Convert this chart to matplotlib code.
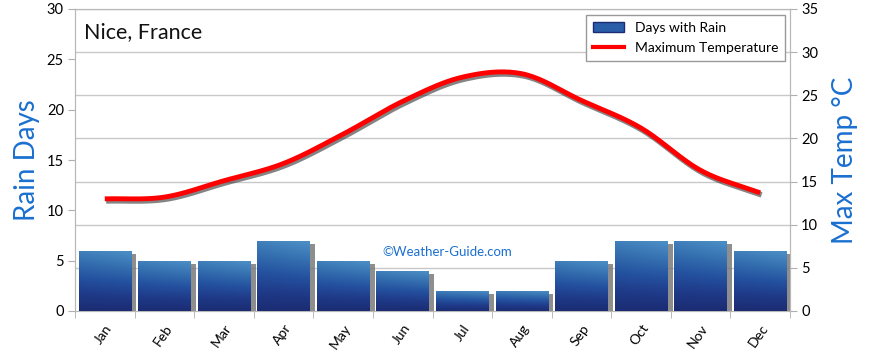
import matplotlib
matplotlib.use('Agg')
import matplotlib.pyplot as plt
import matplotlib.patheffects as pe
from matplotlib.patches import Rectangle, Patch
from matplotlib.lines import Line2D
import numpy as np

plt.rcParams['font.family'] = ['Lato', 'DejaVu Sans']

# Chart data
months = ['Jan', 'Feb', 'Mar', 'Apr', 'May', 'Jun',
          'Jul', 'Aug', 'Sep', 'Oct', 'Nov', 'Dec']
rain_days = [6, 5, 5, 7, 5, 4, 2, 2, 5, 7, 7, 6]
max_temp = [13, 13.2, 15.1, 17.1, 20.5, 24.3, 27.1, 27.5, 24.4, 21.2, 16.3, 13.7]

blue_label = '#1a6fd0'
grid_col = '#c8c8c8'


def smooth(xv, yv, n=20):
    # catmull-rom curve through the data points, only for drawing
    xv = np.asarray(xv, float)
    yv = np.asarray(yv, float)
    px = np.concatenate([[2 * xv[0] - xv[1]], xv, [2 * xv[-1] - xv[-2]]])
    py = np.concatenate([[2 * yv[0] - yv[1]], yv, [2 * yv[-1] - yv[-2]]])
    outx, outy = [], []
    t = np.linspace(0, 1, n, endpoint=False)
    for i in range(1, len(px) - 2):
        for p, out in ((px, outx), (py, outy)):
            p0, p1, p2, p3 = p[i - 1], p[i], p[i + 1], p[i + 2]
            out.extend(0.5 * (2 * p1 + (-p0 + p2) * t +
                              (2 * p0 - 5 * p1 + 4 * p2 - p3) * t ** 2 +
                              (-p0 + 3 * p1 - 3 * p2 + p3) * t ** 3))
    outx.append(xv[-1])
    outy.append(yv[-1])
    return np.array(outx), np.array(outy)


fig = plt.figure(figsize=(8.7, 3.52), dpi=100)
ax1 = fig.add_axes([75 / 870, 41 / 352, 715 / 870, 302 / 352])
ax2 = ax1.twinx()
ax1.set_zorder(ax2.get_zorder() + 1)
ax1.patch.set_visible(False)

x = np.arange(len(months))
width = 0.88

# gradient image for bars
gy = np.linspace(0, 1, 100)[:, None]
gx = np.linspace(0, 1, 60)[None, :]
shade = np.clip(gy * 0.9 + gx * 0.15 * gy, 0, 1)
cmap = matplotlib.colors.LinearSegmentedColormap.from_list(
    'bar', ['#1b2c72', '#1f3a88', '#2452a0', '#3570b0', '#4a8cc4'])

bars = ax1.bar(x, rain_days, width=width, color='none', edgecolor='none', zorder=3)
for b in bars:
    x0, w, h = b.get_x(), b.get_width(), b.get_height()
    ax1.add_patch(Rectangle((x0 + 0.09, 0), w, h - 0.35, facecolor='#7a7a7a',
                            edgecolor='none', alpha=0.85, zorder=2))
    im = ax1.imshow(shade, cmap=cmap, origin='lower', aspect='auto',
                    extent=(x0, x0 + w, 0, h), zorder=3, interpolation='bilinear')
    im.set_clip_path(b)

# temperature line drawn on ax1 in the ax2 data space
sx, sy = smooth(x, max_temp)
ax1.plot(sx, sy, color='#ff0000', lw=3.5, solid_capstyle='butt', zorder=5,
         transform=ax2.transData,
         path_effects=[pe.SimpleLineShadow(offset=(1, -1.5), shadow_color='#333333',
                                           alpha=0.6, linewidth=4),
                       pe.Normal()])

ax1.set_xlim(-0.5, len(months) - 0.5)
ax1.set_ylim(0, 30)
ax2.set_ylim(0, 35)
ax1.set_yticks(range(0, 31, 5))
ax2.set_yticks(range(0, 36, 5))

for v in range(5, 36, 5):
    ax2.axhline(v, color=grid_col, lw=1, zorder=0)

ax1.set_xticks(x)
ax1.set_xticklabels(months, rotation=55, ha='right', va='top',
                    rotation_mode='anchor', fontsize=10)
ax1.tick_params(axis='x', which='major', length=0, pad=8)
ax1.set_xticks(np.arange(-0.5, len(months), 1), minor=True)
ax1.tick_params(axis='x', which='minor', length=5, color='#b0b0b0')

ax1.tick_params(axis='y', length=5, color='#b0b0b0', labelsize=10.5, pad=3)
ax2.tick_params(axis='y', length=5, color='#b0b0b0', labelsize=10.5, pad=3)

for a in (ax1, ax2):
    for s in a.spines.values():
        s.set_color('#b8b8b8')

ax1.set_ylabel('Rain Days', color=blue_label, fontsize=20, labelpad=5)
ax2.set_ylabel('Max Temp °C', color=blue_label, fontsize=20, labelpad=10)

ax1.text(0.012, 0.925, 'Nice, France', transform=ax1.transAxes, fontsize=15.5,
         ha='left', va='center', color='#111111')
ax1.text(0.52, 0.195, '©Weather-Guide.com', transform=ax1.transAxes, fontsize=9.5,
         ha='center', va='center', color=blue_label, zorder=4)

handles = [Patch(facecolor='#2a5da8', edgecolor='#1b2c72'),
           Line2D([0], [0], color='#ff0000', lw=3)]
leg = ax1.legend(handles, ['Days with Rain', 'Maximum Temperature'],
                 loc='upper right', bbox_to_anchor=(0.9935, 0.98), borderaxespad=0,
                 fancybox=False, edgecolor='#999999', fontsize=10, handlelength=2.2,
                 borderpad=0.5, labelspacing=0.6, framealpha=1)
leg.get_frame().set_linewidth(1)

fig.savefig('out.png', dpi=100)
